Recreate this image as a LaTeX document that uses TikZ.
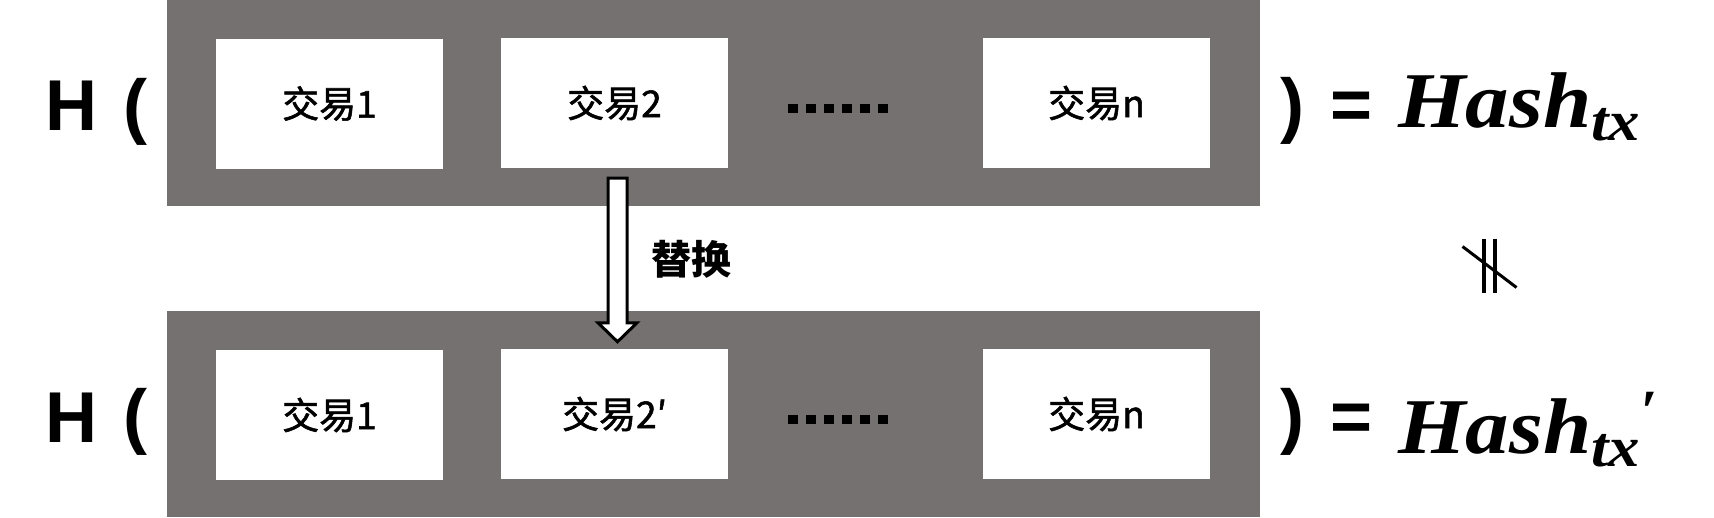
\documentclass[tikz,border=0pt]{standalone}
\usepackage{fontspec}
\newfontfamily\cjk{Noto Sans CJK SC}
\newfontfamily\cjkmed[FakeBold=1.5]{Noto Sans CJK SC}
\newfontfamily\lsans{Liberation Sans}
\newfontfamily\lserif{Liberation Serif}
\usetikzlibrary{calc}
\definecolor{framegray}{HTML}{767171}
\newcommand{\hashtx}{{\lserif\bfseries\itshape\fontsize{79}{79}\selectfont Hash\raisebox{-13pt}{\fontsize{57}{57}\selectfont tx}}}
\begin{document}
\begin{tikzpicture}[x=1pt,y=-1pt,
  frame/.style={fill=framegray,draw=none,inner sep=0,minimum width=1093pt,minimum height=206pt,anchor=north west},
  txbox/.style={fill=white,draw=none,inner sep=0,minimum width=227pt,minimum height=130pt,font=\cjkmed\fontsize{37}{37}\selectfont},
  lbl/.style={inner sep=0,anchor=base west,font=\lsans\bfseries\fontsize{72}{72}\selectfont},
  hashlbl/.style={inner sep=0,anchor=base west},
  dotsq/.style={fill=black,draw=none},
  swaparrow/.style={draw=black,line width=3pt,fill=white,line join=miter},
  neq/.style={draw=black,line width=3.5pt}
]
\useasboundingbox (0,0) rectangle (1714,517);

% frames
\node[frame] (topframe) at (167,0) {};
\node[frame] (botframe) at (167,311) {};

% top row boxes
\node[txbox] (t1) at (329.5,103.5) {交易1};
\node[txbox] (t2) at (614.5,103) {交易2};
\node[txbox] (tn) at (1096.5,103) {交易n};
% bottom row boxes
\node[txbox] (b1) at (329.5,415) {交易1};
\node[txbox] (b2) at (614.5,414) {交易2′};
\node[txbox] (bn) at (1096.5,414) {交易n};

% dots
\foreach \i in {0,...,5} {
  \fill[dotsq] (788+\i*18,103.5) rectangle ++(9.5,9.5);
  \fill[dotsq] (788+\i*18,414.5) rectangle ++(9.5,9.5);
}

% left labels
\node[lbl] (tH) at (45,130) {H};
\node[lbl] (tP) at (123,130) {(};
\node[lbl] (bH) at (45,442) {H};
\node[lbl] (bP) at (123,440) {(};

% right labels
\node[lbl] (tQ) at (1280,129) {)};
\node[lbl] (tE) at (1330,129) {=};
\node[hashlbl] (tHash) at (1398,127) {\scalebox{1.1}[1]{\hashtx}};
\node[lbl] (bQ) at (1280,440) {)};
\node[lbl] (bE) at (1330,441) {=};
\node[hashlbl] (bHash) at (1398,453) {\scalebox{1.1}[1]{\hashtx}{\lserif\bfseries\itshape\fontsize{60}{60}\selectfont\raisebox{22pt}{′}}};

% replacement arrow
\coordinate (as) at ($(t2.south)+(3,10)$);
\coordinate (ae) at ($(b2.north)+(3,-7)$);
\draw[swaparrow] ($(as)+(-9.5,0)$) -- ($(as)+(9.5,0)$) -- ($(ae)+(9.5,-19)$) -- ($(ae)+(19.5,-19)$)
  -- (ae) -- ($(ae)+(-19.5,-19)$) -- ($(ae)+(-9.5,-19)$) -- cycle;
\node[inner sep=0,anchor=west,font=\cjk\bfseries\fontsize{40}{40}\selectfont] (swaplbl) at (651,259) {替换};

% not parallel symbol
\coordinate (np) at (1489.5,265.5);
\draw[neq] ($(np)+(-5.5,-27)$) -- ($(np)+(-5.5,27)$);
\draw[neq] ($(np)+(5.5,-27)$) -- ($(np)+(5.5,27)$);
\draw[neq,line width=3pt] ($(np)+(-27,-19)$) -- ($(np)+(27,22)$);
\end{tikzpicture}
\end{document}
